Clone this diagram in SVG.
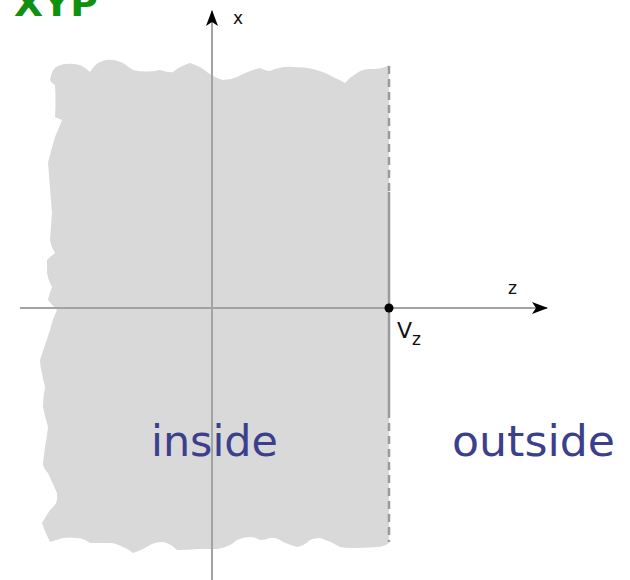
<svg xmlns="http://www.w3.org/2000/svg" width="630" height="580" viewBox="0 0 630 580">
  <style>
    .axis { stroke: #a3a3a3; stroke-width: 2; fill: none; }
    .lbl { font-family: "DejaVu Sans", sans-serif; fill: #111; }
    .big { font-family: "DejaVu Sans", sans-serif; fill: #3b3f8c; font-size: 42px; }
    .bd { stroke: #9a9a9a; stroke-width: 2.5; }
  </style>
  <defs>
    <marker id="arr" viewBox="0 0 16 12" refX="15" refY="6" markerWidth="16" markerHeight="12" markerUnits="userSpaceOnUse" orient="auto">
      <path d="M0,0 L16,6 L0,12 L4,6 Z" fill="#000"/>
    </marker>
  </defs>
  <rect width="630" height="580" fill="#fff"/>
  <g id="region">
    <path fill="#d9d9d9" d="M50,80 Q52,68 58,66 Q66,62 80,65 Q86,68 90,72 Q95,64 100,62 Q110,57 123,63 Q130,68 133,70 Q145,73 160,70 Q170,73 173,72 Q180,66 190,63 Q200,66 207,72 Q215,78 223,80 Q230,80 237,77 Q250,70 260,68 Q266,71 270,71 Q282,66 293,67 Q305,67 313,69 Q325,72 333,77 Q340,80 345,83 Q350,77 357,73 Q363,69 370,69 Q378,69 382,68 Q386,67 389,65 L389,543 Q384,547 377,547 Q365,548 353,548 Q345,548 340,547 Q330,541 320,538 Q314,538 310,540 Q304,546 297,547 Q290,545 283,542 Q276,537 270,538 Q265,540 260,540 Q255,537 250,537 Q243,537 237,540 Q228,548 217,549 Q205,549 197,549 Q185,550 177,550 Q170,543 163,542 Q155,542 150,545 Q140,551 133,553 Q128,549 123,547 Q115,543 110,543 Q100,543 90,543 Q83,538 77,538 Q70,537 63,538 Q56,540 50,542 Q45,532 42,523 Q46,516 50,510 Q56,505 57,500 Q57,496 57,493 Q52,482 48,473 Q43,468 43,463 Q44,455 45,447 Q47,437 48,427 Q45,417 43,407 Q43,397 45,387 Q43,380 42,373 Q40,366 40,360 Q45,345 50,330 Q53,318 57,310 Q52,305 48,300 Q49,294 52,287 Q48,280 47,273 Q47,266 47,260 Q51,256 55,253 Q51,247 50,240 Q51,226 52,213 Q50,188 48,163 Q51,150 55,137 Q59,128 62,120 Q57,118 55,117 Q56,101 55,85 Q51,83 50,80 Z"/>
  </g>
  <g id="boundary">
    <line class="bd" x1="389" y1="66" x2="389" y2="192" stroke-dasharray="8,5"/>
    <line class="bd" x1="389" y1="192" x2="389" y2="418"/>
    <line class="bd" x1="389" y1="423" x2="389" y2="542" stroke-dasharray="8,5"/>
  </g>
  <g id="connectors">
    <line class="axis" x1="212" y1="580" x2="212" y2="11" marker-end="url(#arr)"/>
    <line class="axis" x1="20" y1="308" x2="547" y2="308" marker-end="url(#arr)"/>
  </g>
  <g id="vz">
    <circle cx="389" cy="308" r="4.5" fill="#000"/>
    <text class="lbl" x="397" y="338" font-size="22">V<tspan font-size="17" dy="7">z</tspan></text>
  </g>
  <g id="labels">
    <text class="lbl" x="233" y="24" font-size="17">x</text>
    <text class="lbl" x="508" y="294" font-size="17">z</text>
    <text class="big" x="151" y="456" textLength="127" lengthAdjust="spacingAndGlyphs">inside</text>
    <text class="big" x="452" y="456" textLength="163" lengthAdjust="spacingAndGlyphs">outside</text>
    <text x="14" y="16" font-family="DejaVu Sans, sans-serif" font-weight="bold" font-size="36" fill="#109010" textLength="84" lengthAdjust="spacingAndGlyphs">XYP</text>
  </g>
</svg>
